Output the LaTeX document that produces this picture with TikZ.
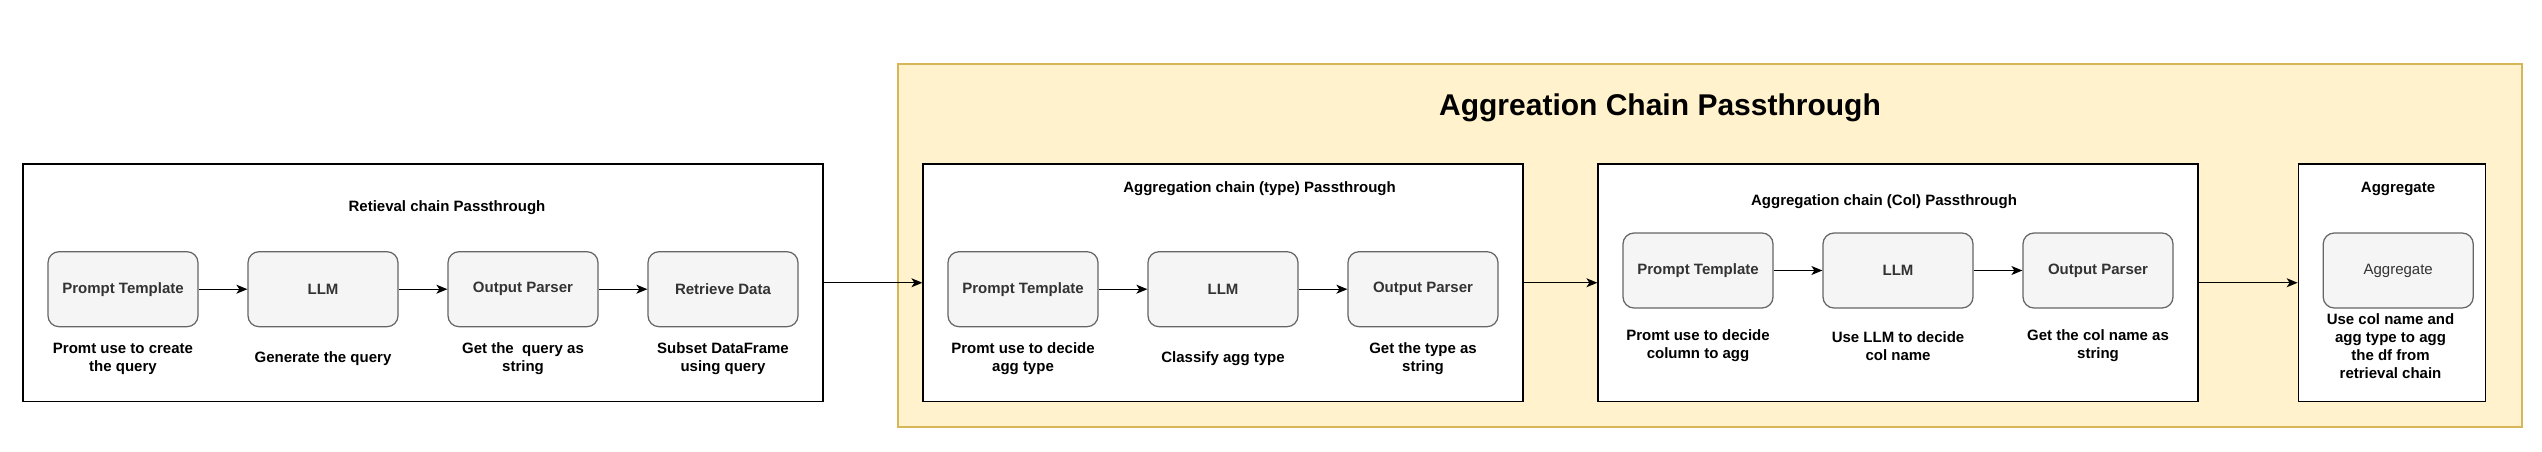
\documentclass[tikz,border=0pt]{standalone}
\usepackage{fontspec}
\setmainfont{Liberation Sans}
\usetikzlibrary{arrows,arrows.meta,positioning}
\definecolor{stepfill}{HTML}{F5F5F5}
\definecolor{stepline}{HTML}{666666}
\definecolor{steptext}{HTML}{333333}
\definecolor{aggfill}{HTML}{FFF2CC}
\definecolor{aggline}{HTML}{D6B656}

\begin{document}
\begin{tikzpicture}[x=1pt,y=-1pt,font=\fontsize{15}{18}\selectfont\bfseries,
	>={Stealth[length=11pt,width=9pt,inset=3pt]},
	chainbox/.style={draw=black,fill=white,line width=1.25pt,minimum height=237.5pt,minimum width=#1,inner sep=0pt},
	stepbox/.style={draw=stepline,fill=stepfill,text=steptext,rounded corners=11pt,line width=1.25pt,minimum width=150pt,minimum height=75pt,inner sep=0pt},
	notetext/.style={align=center,inner sep=0pt},
	link/.style={->,line width=1.25pt}]
	\useasboundingbox (0,0) rectangle (2542,451);
	
	\node[draw=aggline,fill=aggfill,line width=1.25pt,minimum width=1624pt,minimum height=363pt,inner sep=0pt] (Agg) at (1710,245.5) {};
	\node[font=\fontsize{30}{36}\selectfont\bfseries] (AggTitle) at (1660,108) {Aggreation Chain Passthrough};
	
	\node[chainbox=800pt] (Ret) at (423,282.75) {};
	\node[chainbox=600pt] (Typ) at (1223,282.75) {};
	\node[chainbox=600pt] (Col) at (1898,282.75) {};
	\node[chainbox=187.5pt] (Agr) at (2392,282.75) {};
	
	\node (RetTitle) at (447,208) {Retieval chain Passthrough};
	\node (TypTitle) at (1259.5,189) {Aggregation chain (type) Passthrough};
	\node (ColTitle) at (1884,202) {Aggregation chain (Col) Passthrough};
	\node (AgrTitle) at (2398,189) {Aggregate};
	
	\foreach \t [count=\n] in {Prompt Template,LLM,Output Parser,Retrieve Data}
		\node[stepbox,xshift=\n*200pt] (R\n) at (-77,289.2) {\t};
	\foreach \c [count=\n] in {{Promt use to create\\the query},{Generate the query},{Get the \ query as\\string},{Subset DataFrame\\using query}}
		\node[notetext] (RN\n) at ([yshift=-69.5pt]R\n.center) {\c};
	
	\foreach \t [count=\n] in {Prompt Template,LLM,Output Parser}
		\node[stepbox,xshift=\n*200pt] (T\n) at (823,289.2) {\t};
	\foreach \c [count=\n] in {{Promt use to decide\\agg type},{Classify agg type},{Get the type as\\string}}
		\node[notetext] (TN\n) at ([yshift=-69pt]T\n.center) {\c};
	
	\foreach \t [count=\n] in {Prompt Template,LLM,Output Parser}
		\node[stepbox,xshift=\n*200pt] (C\n) at (1498,270.5) {\t};
	\foreach \c [count=\n] in {{Promt use to decide\\column to agg},{Use LLM to decide\\col name},{Get the col name as\\string}}
		\node[notetext] (CN\n) at ([yshift=-75.5pt]C\n.center) {\c};
	
	\node[stepbox,font=\fontsize{15}{18}\selectfont] (A1) at (2398.2,270.5) {Aggregate};
	\node[notetext] (AN1) at (2390.5,346) {Use col name and\\agg type to agg\\the df from\\retrieval chain};
	
	\foreach \i in {1,...,3}
	{
		\pgfmathtruncatemacro{\TempVar}{\i+1}
		\path[link] (R\i) edge (R\TempVar);
	}
	\foreach \i in {1,2}
	{
		\pgfmathtruncatemacro{\TempVar}{\i+1}
		\path[link]
			(T\i) edge (T\TempVar)
			(C\i) edge (C\TempVar);
	}
	
	\path[link]
		(Ret) edge (Typ)
		(Typ) edge (Col)
		(Col) edge (Agr);
\end{tikzpicture}
\end{document}
